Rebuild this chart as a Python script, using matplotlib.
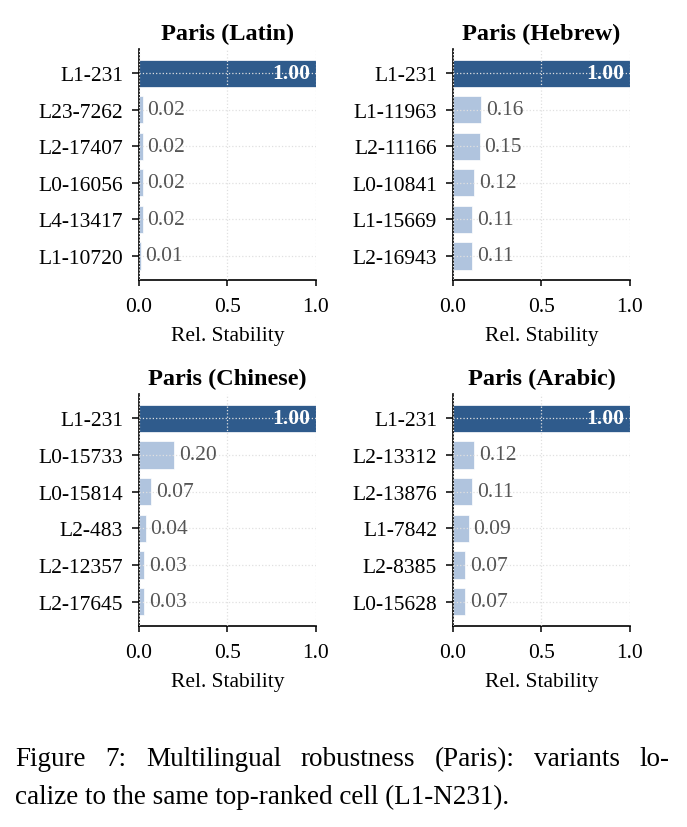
import numpy as np
import matplotlib
matplotlib.use("Agg")
import matplotlib.pyplot as plt

plt.rcParams['font.family'] = ['Liberation Serif', 'DejaVu Serif']
plt.rcParams['mathtext.fontset'] = 'stix'

# data
titles = ["Paris (Latin)", "Paris (Hebrew)", "Paris (Chinese)", "Paris (Arabic)"]

latin_cells = ["L1-231", "L23-7262", "L2-17407", "L0-16056", "L4-13417", "L1-10720"]
latin_vals = [1.00, 0.02, 0.02, 0.02, 0.02, 0.01]

hebrew_cells = ["L1-231", "L1-11963", "L2-11166", "L0-10841", "L1-15669", "L2-16943"]
hebrew_vals = [1.00, 0.16, 0.15, 0.12, 0.11, 0.11]

chinese_cells = ["L1-231", "L0-15733", "L0-15814", "L2-483", "L2-12357", "L2-17645"]
chinese_vals = [1.00, 0.20, 0.07, 0.04, 0.03, 0.03]

arabic_cells = ["L1-231", "L2-13312", "L2-13876", "L1-7842", "L2-8385", "L0-15628"]
arabic_vals = [1.00, 0.12, 0.11, 0.09, 0.07, 0.07]

caption_lines = ["Figure 7: Multilingual robustness (Paris): variants lo-",
                 "calize to the same top-ranked cell (L1-N231)."]

DARK = '#2f5b8c'
LIGHT = '#b0c4de'

fig = plt.figure(figsize=(6.87, 8.28), dpi=100)

# axes boxes in figure fractions (left, bottom, width, height)
boxes = [
    (0.2023, 0.6606, 0.2576, 0.2790),
    (0.6594, 0.6606, 0.2576, 0.2790),
    (0.2023, 0.2428, 0.2576, 0.2801),
    (0.6594, 0.2428, 0.2576, 0.2801),
]

panels = [(latin_cells, latin_vals), (hebrew_cells, hebrew_vals),
          (chinese_cells, chinese_vals), (arabic_cells, arabic_vals)]

FS = 15.5

for box, title, (cells, vals) in zip(boxes, titles, panels):
    ax = fig.add_axes(box)
    y = np.arange(len(cells))
    colors = [DARK if i == 0 else LIGHT for i in range(len(cells))]
    ax.barh(y, vals, height=0.75, color=colors, edgecolor='white',
            linewidth=0.5, zorder=2)
    ax.invert_yaxis()
    ax.set_yticks(y)
    ax.set_yticklabels(cells)
    ax.set_xlim(0, 1.0)
    ax.set_xticks([0.0, 0.5, 1.0])
    ax.set_xticklabels(['0.0', '0.5', '1.0'])
    ax.tick_params(axis='x', labelsize=FS, length=4.5, width=1.1, pad=7.5)
    ax.tick_params(axis='y', labelsize=FS, length=5, width=1.1, pad=6.5)
    ax.set_xlabel('Rel. Stability', fontsize=FS, labelpad=7.5)
    ax.set_title(title, fontsize=17.5, fontweight='bold', pad=7)
    ax.grid(True, linestyle=':', color='#e0e0e0', linewidth=0.9, zorder=3)
    ax.set_axisbelow(False)
    for s in ['top', 'right']:
        ax.spines[s].set_visible(False)
    for s in ['left', 'bottom']:
        ax.spines[s].set_linewidth(1.2)

    for i, v in enumerate(vals):
        if i == 0:
            ax.text(v - 0.03, i, f'{v:.2f}', ha='right', va='center',
                    color='white', fontweight='bold', fontsize=FS, zorder=4)
        else:
            ax.text(v + 0.025, i, f'{v:.2f}', ha='left', va='center',
                    color='#555555', fontsize=FS, zorder=4)

# caption: first line justified to the right edge, second line ragged
CAP_FS = 19.5
x0, x1 = 15 / 687, 670 / 687
renderer = fig.canvas.get_renderer()
words = caption_lines[0].split(' ')
texts = [fig.text(0, 1 - 760 / 828, w, ha='left', va='center', fontsize=CAP_FS)
         for w in words]
widths = [t.get_window_extent(renderer).width / fig.bbox.width for t in texts]
gap = (x1 - x0 - sum(widths)) / (len(words) - 1)
xpos = x0
for t, w in zip(texts, widths):
    t.set_x(xpos)
    xpos += w + gap
fig.text(x0, 1 - 797 / 828, caption_lines[1], ha='left', va='center',
         fontsize=CAP_FS)

fig.savefig('out.png', dpi=100)
